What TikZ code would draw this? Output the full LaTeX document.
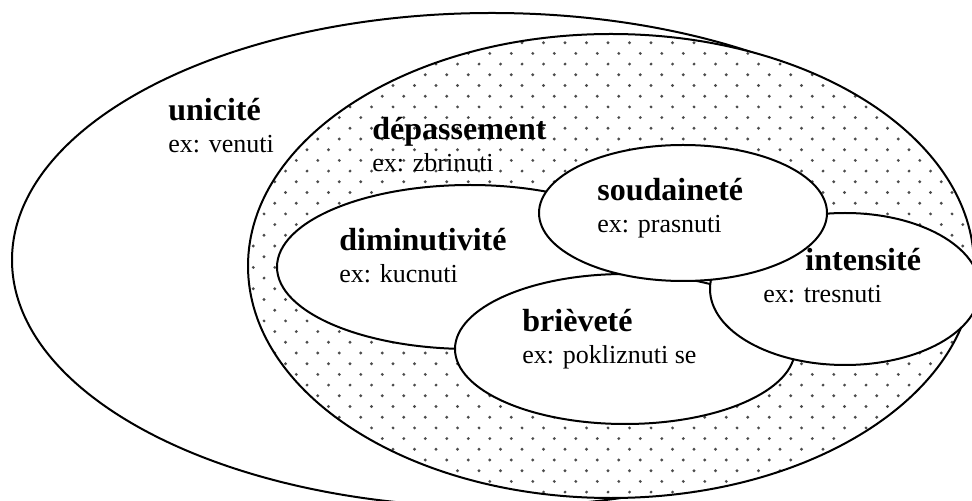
\documentclass[tikz,border=0pt]{standalone}
\usepackage{fontspec}
\setmainfont{Liberation Serif}
\begin{document}
\begin{tikzpicture}[x=0.5pt,y=-0.5pt,
    zone/.style={draw=black,line width=1pt,fill=white},
    lbl/.style={anchor=base west,align=left,inner sep=0pt,
      font=\fontsize{13pt}{16pt}\selectfont}]

  \useasboundingbox (0,0) rectangle (972,501);
  \clip (0,0) rectangle (972,501);

  \def\bigname#1{{\fontsize{16pt}{16pt}\selectfont\bfseries #1}}

  \draw[zone] (492,260) ellipse [x radius=480, y radius=247];

  % dotted ring
  \begin{scope}
    \clip (611,266) ellipse [x radius=363, y radius=232];
    \fill[white] (0,0) rectangle (972,501);
    \foreach \j in {-1,...,21}
      \foreach \i in {-16,...,19} {
        \fill[black!70] ({565+21.5*\i},{42.7+21.4*\j}) circle (0.8pt);
        \fill[black!70] ({575.75+21.5*\i},{53.4+21.4*\j}) circle (0.8pt);
      }
  \end{scope}
  \draw[line width=1pt] (611,266) ellipse [x radius=363, y radius=232];

  \draw[zone] (470,267) ellipse [x radius=193, y radius=82];
  \draw[zone] (625,349) ellipse [x radius=170, y radius=75];
  \draw[zone] (845,289) ellipse [x radius=135, y radius=76];
  \draw[zone] (683,213) ellipse [x radius=144, y radius=68];

  % base = last line
  \node[lbl] (unicite) at (168,153) {\bigname{unicité}\\ ex: venuti};
  \node[lbl] (depassement) at (372,172) {\bigname{dépassement}\\ ex: zbrinuti};
  \node[lbl] (diminutivite) at (339,283) {\bigname{diminutivité}\\ ex: kucnuti};
  \node[lbl] (soudainete) at (597,233) {\bigname{soudaineté}\\ ex: prasnuti};
  \node[lbl] (brievete) at (522,364) {\bigname{brièveté}\\ ex: pokliznuti se};
  \node[lbl] (intensite) at (763,303) {\hspace*{21pt}\bigname{intensité}\\ ex: tresnuti};

\end{tikzpicture}
\end{document}
